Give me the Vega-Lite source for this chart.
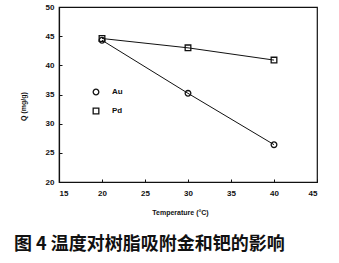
{
  "$schema": "https://vega.github.io/schema/vega-lite/v6.json",
  "width": 258,
  "height": 175,
  "autosize": "none",
  "padding": {"left": 59, "top": 7, "right": 22, "bottom": 81},
  "background": "white",
  "config": {
    "view": {"stroke": "#111", "strokeWidth": 1.2},
    "font": "Liberation Sans",
    "axis": {
      "domainColor": "#111",
      "tickColor": "#111",
      "labelColor": "#111",
      "titleColor": "#111",
      "labelFont": "Liberation Sans",
      "labelFontWeight": "bold",
      "labelFontSize": 8,
      "titleFont": "Liberation Sans",
      "titleFontWeight": "bold",
      "titleFontSize": 7,
      "grid": false,
      "tickSize": -3,
      "domainWidth": 1.2
    }
  },
  "title": {
    "text": "图 4  温度对树脂吸附金和钯的影响",
    "orient": "bottom",
    "anchor": "start",
    "frame": "group",
    "dx": -45,
    "offset": 21,
    "font": "Noto Sans CJK SC",
    "fontWeight": "bold",
    "fontSize": 18,
    "color": "#111"
  },
  "data": {
    "values": [
      {"t": 20, "q": 44.3, "metal": "Au"},
      {"t": 30, "q": 35.2, "metal": "Au"},
      {"t": 40, "q": 26.4, "metal": "Au"},
      {"t": 20, "q": 44.6, "metal": "Pd"},
      {"t": 30, "q": 43.0, "metal": "Pd"},
      {"t": 40, "q": 40.9, "metal": "Pd"}
    ]
  },
  "encoding": {
    "x": {
      "field": "t",
      "type": "quantitative",
      "scale": {"domain": [15, 45], "nice": false},
      "axis": {
        "values": [15, 20, 25, 30, 35, 40, 45],
        "title": "Temperature (°C)",
        "labelPadding": 10,
        "titlePadding": 11,
        "titleX": 121
      }
    },
    "y": {
      "field": "q",
      "type": "quantitative",
      "scale": {"domain": [20, 50], "nice": false, "zero": false},
      "axis": {
        "values": [20, 25, 30, 35, 40, 45, 50],
        "title": "Q  (mg/g)",
        "labelPadding": 8,
        "titleX": -36,
        "titleY": 99,
        "titleAngle": 270,
        "titleAlign": "center",
        "titleBaseline": "middle"
      }
    }
  },
  "layer": [
    {
      "mark": {"type": "line", "color": "#111", "strokeWidth": 1},
      "encoding": {"detail": {"field": "metal"}}
    },
    {
      "mark": {"type": "point", "filled": false, "color": "#111", "strokeWidth": 1.3, "size": 32, "opacity": 1},
      "encoding": {
        "shape": {
          "field": "metal",
          "type": "nominal",
          "scale": {"domain": ["Au", "Pd"], "range": ["circle", "square"]},
          "legend": {
            "orient": "none",
            "legendX": 33,
            "legendY": 81,
            "title": null,
            "labelFont": "Liberation Sans",
            "labelFontWeight": "bold",
            "labelFontSize": 8,
            "labelColor": "#111",
            "symbolStrokeColor": "#111",
            "symbolStrokeWidth": 1.3,
            "symbolSize": 32,
            "symbolFillColor": "white",
            "labelOffset": 12,
            "rowPadding": 7
          }
        }
      }
    }
  ]
}
